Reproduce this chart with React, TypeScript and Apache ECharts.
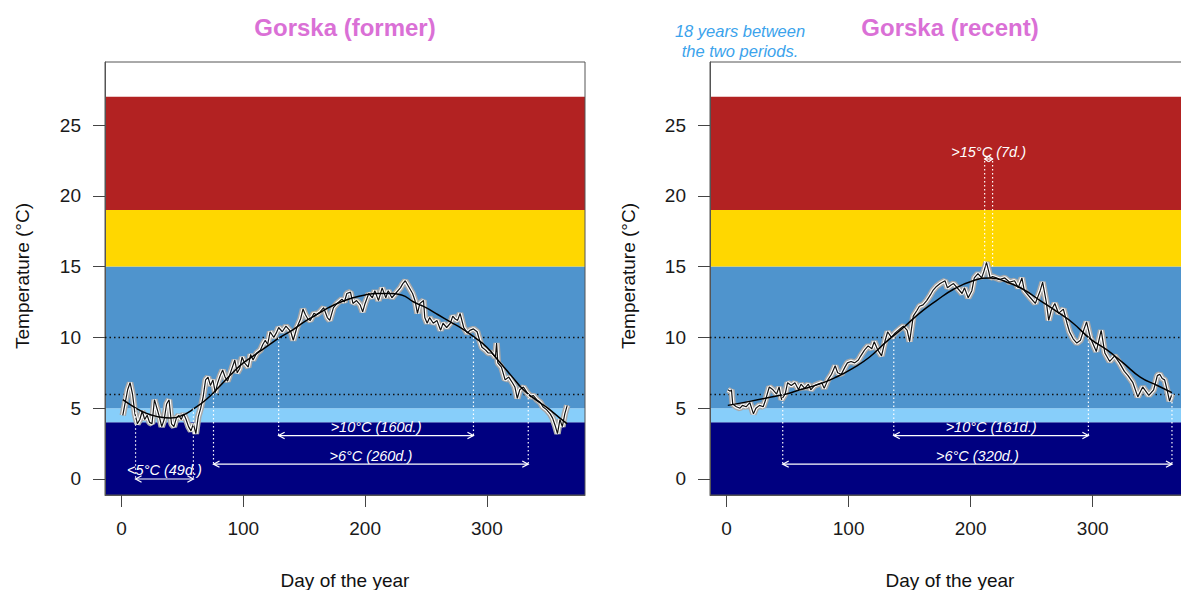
import { useEffect, useRef } from "react";
import * as echarts from "echarts";

// ---------- axes ----------
const X_TICKS = [0, 100, 200, 300];
const Y_TICKS = [0, 5, 10, 15, 20, 25];
const X_MIN = -13.6;
const X_MAX = 380.6;
const Y_MIN = -1.13;
const Y_MAX = 29.45;

// ---------- temperature classes (°C) ----------
const bandLow = [Y_MIN, 4, 5, 15, 19];
const bandHigh = [4, 5, 15, 19, 27];
const refLines = [6, 10];

// ---------- titles / texts ----------
const panelTitles = ["Gorska (former)", "Gorska (recent)"];
const noteLines = ["18 years between", "the two periods."];
const xName = "Day of the year";
const yName = "Temperature (°C)";

// ---------- former period: daily mean ----------
const formerDays = [
  1, 3, 5, 7, 9, 11, 13, 15, 17, 19, 21, 23, 25, 27, 29, 31, 33, 35, 37, 39, 41, 43, 45, 47, 49, 51, 53, 55, 57, 59,
  61, 63, 65, 67, 69, 71, 73, 75, 77, 79, 81, 83, 85, 87, 89, 91, 93, 95, 97, 99, 101, 104, 106, 108, 111, 114, 116,
  118, 120, 122, 125, 127, 129, 132, 135, 137, 139, 141, 144, 147, 149, 151, 153, 155, 158, 160, 163, 166, 169, 171,
  174, 177, 181, 183, 185, 188, 190, 193, 196, 198, 200, 203, 206, 208, 211, 214, 217, 219, 222, 225, 229, 231, 233,
  235, 237, 239, 241, 243, 245, 248, 249, 251, 253, 256, 259, 262, 264, 267, 270, 272, 274, 276, 278, 281, 284, 286,
  289, 292, 294, 296, 299, 301, 304, 307, 308, 309, 312, 315, 318, 321, 323, 325, 327, 330, 333, 336, 338, 341, 344,
  346, 349, 352, 354, 356, 358, 360, 362, 364, 366,
];
const formerTemps = [
  4.5, 5.4, 6.3, 6.8, 6.0, 4.6, 3.9, 4.2, 4.8, 4.2, 4.5, 4.0, 3.9, 5.6, 5.0, 4.4, 3.7, 4.2, 5.3, 5.6, 3.9, 3.7, 4.3,
  4.5, 4.2, 4.6, 4.2, 3.7, 3.4, 3.9, 3.2, 4.4, 5.0, 5.8, 7.0, 7.2, 6.6, 7.0, 6.1, 6.8, 7.3, 7.7, 7.2, 6.9, 7.4, 7.9,
  8.4, 7.5, 7.8, 8.6, 8.2, 7.9, 8.8, 8.4, 8.9, 9.1, 9.5, 9.8, 9.5, 10.4, 10.0, 10.3, 10.7, 10.4, 10.8, 10.6, 10.4, 9.8,
  10.7, 11.3, 12.0, 11.6, 11.3, 11.2, 11.7, 11.6, 11.8, 12.1, 11.4, 11.2, 12.1, 12.4, 12.7, 12.5, 13.1, 13.2, 12.4,
  12.6, 12.3, 11.8, 12.4, 13.1, 12.8, 13.3, 12.6, 13.5, 12.8, 13.3, 12.8, 13.1, 13.5, 13.8, 14.0, 13.7, 13.4, 13.1,
  12.6, 11.7, 12.4, 12.6, 11.4, 11.0, 11.4, 11.0, 11.2, 10.5, 11.0, 10.7, 11.0, 11.5, 11.3, 11.2, 11.7, 10.7, 10.3,
  10.5, 10.6, 10.4, 9.8, 9.3, 9.1, 8.9, 8.9, 8.6, 9.6, 8.2, 7.9, 7.0, 7.2, 6.8, 6.5, 5.7, 6.3, 6.5, 6.1, 5.8, 5.9, 5.6,
  5.4, 5.1, 4.9, 4.6, 4.3, 3.8, 3.2, 4.2, 3.7, 4.6, 5.2,
];
// former period: smoothed curve
const formerSmoothDays = [
  1, 10, 20, 30, 40, 50, 60, 70, 80, 90, 100, 110, 120, 130, 140, 150, 160, 170, 180, 190, 200, 210, 220, 230, 240,
  250, 260, 270, 280, 290, 300, 310, 320, 330, 340, 350, 360, 366,
];
const formerSmoothTemps = [
  5.6, 5.1, 4.65, 4.4, 4.3, 4.5, 5.0, 5.65, 6.5, 7.4, 8.2, 8.8, 9.4, 10.0, 10.5, 11.1, 11.6, 12.1, 12.5, 12.8, 13.0,
  13.1, 13.1, 13.0, 12.5, 12.1, 11.6, 11.1, 10.6, 10.0, 9.3, 8.3, 7.3, 6.3, 5.6, 5.0, 4.3, 3.9,
];
// former period: threshold spans [start day, end day, threshold, arrow level, label level]
const formerSpans = [
  [11.5, 59, 5, 0, 0.64],
  [129, 289, 10, 3.07, 3.67],
  [75.5, 334, 6, 1.05, 1.63],
];
const formerSpanLabels = ["<5°C (49d.)", ">10°C (160d.)", ">6°C (260d.)"];

// ---------- recent period: daily mean ----------
const recentDays = [
  1, 3, 4, 5, 8, 11, 13, 16, 19, 22, 24, 27, 30, 32, 35, 38, 41, 43, 45, 48, 50, 53, 56, 59, 61, 64, 67, 69, 72, 75,
  78, 80, 83, 86, 89, 91, 94, 97, 99, 102, 105, 108, 110, 113, 116, 119, 121, 124, 127, 130, 132, 135, 138, 142, 145,
  148, 150, 153, 156, 158, 161, 164, 167, 169, 172, 175, 179, 181, 184, 186, 190, 193, 195, 198, 201, 203, 206, 209,
  211, 213, 215, 216, 218, 221, 224, 228, 232, 236, 239, 242, 244, 249, 253, 257, 259, 262, 264, 266, 269, 272, 276,
  279, 281, 284, 287, 290, 293, 295, 298, 300, 303, 307, 310, 314, 318, 322, 326, 329, 333, 337, 341, 346, 350, 353,
  355, 357, 359, 361, 363, 365,
];
const recentTemps = [
  6.3, 6.2, 6.3, 5.3, 5.1, 5.0, 5.2, 5.1, 5.4, 4.6, 5.0, 5.2, 5.1, 5.6, 6.5, 6.3, 6.0, 6.5, 5.6, 6.0, 6.8, 6.6, 6.8,
  6.3, 6.7, 6.4, 6.7, 6.3, 6.6, 6.7, 6.8, 6.4, 7.0, 7.4, 8.0, 7.5, 7.4, 7.9, 8.2, 8.3, 8.2, 8.4, 8.7, 9.1, 9.4, 9.2,
  9.7, 9.1, 8.7, 9.8, 10.4, 10.0, 10.3, 10.6, 10.8, 10.5, 9.7, 11.5, 11.9, 12.2, 12.3, 12.6, 13.0, 13.3, 13.6, 13.8,
  14.0, 13.5, 13.7, 13.8, 13.4, 13.1, 13.5, 12.8, 13.3, 14.2, 14.5, 14.2, 14.7, 15.3, 14.6, 14.2, 14.3, 14.2, 14.1,
  14.2, 13.9, 14.0, 13.5, 14.2, 13.3, 12.8, 12.4, 13.3, 13.9, 12.5, 11.2, 11.9, 12.4, 11.7, 12.0, 11.0, 10.4, 9.9,
  9.6, 9.8, 10.6, 11.1, 10.0, 9.6, 9.0, 10.5, 8.9, 8.3, 8.7, 8.2, 7.6, 7.3, 6.8, 5.8, 6.5, 5.9, 6.3, 7.3, 7.4, 7.1,
  7.0, 6.3, 5.5, 6.0,
];
// recent period: smoothed curve
const recentSmoothDays = [
  1, 20, 40, 49, 60, 76, 90, 103, 117, 131, 145, 158, 172, 186, 202, 216, 230, 243, 257, 271, 284, 298, 312, 325, 339,
  353, 365,
];
const recentSmoothTemps = [
  5.2, 5.5, 5.85, 6.0, 6.3, 6.7, 7.2, 7.8, 8.6, 9.7, 10.7, 11.7, 12.6, 13.4, 14.0, 14.2, 13.9, 13.4, 12.6, 11.8, 11.0,
  9.9, 9.1, 8.2, 7.2, 6.6, 6.1,
];
const recentSpans = [
  [211.5, 218, 15, 22.6, 23.1],
  [137, 296.5, 10, 3.07, 3.67],
  [46, 365, 6, 1.05, 1.63],
];
const recentSpanLabels = [">15°C (7d.)", ">10°C (161d.)", ">6°C (320d.)"];

// ---------- styles ----------
const FONT = '"Liberation Sans", Arial, sans-serif';
const bandColors = ["#000080", "#87CEFA", "#4F94CD", "#FFD700", "#B22222"];
const TITLE_COLOR = "#DA70D6";
const NOTE_COLOR = "#3BA3EC";

function pairs(xs: number[], ys: number[]) {
  return xs.map((x, i) => [x, ys[i]]);
}

function panelSeries(
  idx: number,
  days: number[],
  temps: number[],
  sDays: number[],
  sTemps: number[],
  spans: number[][],
  labels: string[]
): any[] {
  const noisy = pairs(days, temps);
  const common = { xAxisIndex: idx, yAxisIndex: idx };
  return [
    {
      ...common,
      type: "custom",
      z: -1,
      silent: true,
      data: bandLow.map((lo, i) => [lo, bandHigh[i], i]),
      renderItem: (params: any, api: any) => {
        const cs = params.coordSys;
        const top = api.coord([0, api.value(1)])[1];
        const bot = api.coord([0, api.value(0)])[1];
        return {
          type: "rect",
          shape: { x: cs.x, y: top, width: cs.width, height: bot - top },
          style: { fill: bandColors[api.value(2)] },
        };
      },
    },
    {
      ...common,
      type: "custom",
      z: 1,
      silent: true,
      data: refLines.map((v) => [v]),
      renderItem: (params: any, api: any) => {
        const cs = params.coordSys;
        const y = Math.round(api.coord([0, api.value(0)])[1]) + 0.5;
        return {
          type: "line",
          shape: { x1: cs.x, y1: y, x2: cs.x + cs.width, y2: y },
          style: { stroke: "#111", lineWidth: 1.3, lineDash: [1.5, 3] },
        };
      },
    },
    {
      ...common,
      type: "line",
      z: 2,
      data: noisy,
      showSymbol: false,
      silent: true,
      lineStyle: { color: "#a8a8a8", width: 6.5 },
    },
    {
      ...common,
      type: "line",
      z: 2,
      data: noisy,
      showSymbol: false,
      silent: true,
      lineStyle: { color: "#ffffff", width: 3.5 },
    },
    {
      ...common,
      type: "line",
      z: 3,
      data: noisy,
      showSymbol: false,
      silent: true,
      lineStyle: { color: "#111111", width: 1.2 },
    },
    {
      ...common,
      type: "line",
      z: 4,
      data: pairs(sDays, sTemps),
      smooth: 0.5,
      showSymbol: false,
      silent: true,
      lineStyle: { color: "#000000", width: 1.5 },
    },
    {
      ...common,
      type: "custom",
      z: 5,
      silent: true,
      data: spans,
      renderItem: (params: any, api: any) => {
        const x1 = api.value(0);
        const x2 = api.value(1);
        const yFrom = api.value(2);
        const yArrow = api.value(3);
        const yText = api.value(4);
        const a = api.coord([x1, yFrom]);
        const b = api.coord([x1, yArrow]);
        const c = api.coord([x2, yFrom]);
        const d = api.coord([x2, yArrow]);
        const t = api.coord([(x1 + x2) / 2, yText]);
        const len = Math.abs(d[0] - b[0]);
        const h = Math.min(6, len / 2);
        const w = Math.min(3.2, len / 3);
        const stroke = { stroke: "#ffffff", lineWidth: 1.2 };
        const dotted = { stroke: "#ffffff", lineWidth: 1.2, lineDash: [1.5, 2.5] };
        return {
          type: "group",
          children: [
            { type: "line", shape: { x1: a[0], y1: a[1], x2: b[0], y2: b[1] }, style: dotted },
            { type: "line", shape: { x1: c[0], y1: c[1], x2: d[0], y2: d[1] }, style: dotted },
            { type: "line", shape: { x1: b[0], y1: b[1], x2: d[0], y2: d[1] }, style: stroke },
            {
              type: "polyline",
              shape: { points: [[b[0] + h, b[1] - w], [b[0], b[1]], [b[0] + h, b[1] + w]] },
              style: { ...stroke, fill: "none" },
            },
            {
              type: "polyline",
              shape: { points: [[d[0] - h, d[1] - w], [d[0], d[1]], [d[0] - h, d[1] + w]] },
              style: { ...stroke, fill: "none" },
            },
            {
              type: "text",
              x: t[0],
              y: t[1],
              style: {
                text: labels[params.dataIndex],
                fill: "#ffffff",
                fontSize: 14.5,
                fontStyle: "italic",
                fontFamily: FONT,
                align: "center",
                verticalAlign: "middle",
              },
            },
          ],
        };
      },
    },
  ];
}

function axisPair(idx: number) {
  const label = { fontSize: 19, color: "#1a1a1a", fontFamily: FONT, margin: 24 };
  return {
    x: {
      gridIndex: idx,
      type: "value",
      min: X_MIN,
      max: X_MAX,
      axisLine: { show: true, onZero: false, lineStyle: { color: "#555" } },
      axisTick: { show: true, inside: false, length: 12, lineStyle: { color: "#444" }, customValues: X_TICKS },
      axisLabel: { ...label, customValues: X_TICKS },
      splitLine: { show: false },
    },
    y: {
      gridIndex: idx,
      type: "value",
      min: Y_MIN,
      max: Y_MAX,
      axisLine: { show: true, onZero: false, lineStyle: { color: "#555" } },
      axisTick: { show: true, inside: false, length: 12, lineStyle: { color: "#444" }, customValues: Y_TICKS },
      axisLabel: { ...label, customValues: Y_TICKS },
      splitLine: { show: false },
    },
  };
}

export default function App() {
  const ref = useRef<HTMLDivElement>(null);
  useEffect(() => {
    if (!ref.current) return;
    const chart = echarts.init(ref.current, undefined, { renderer: "svg" });
    const a0 = axisPair(0);
    const a1 = axisPair(1);
    const textStyle = (size: number, extra: any = {}) => ({
      fontSize: size,
      fontFamily: FONT,
      fill: "#111",
      align: "center",
      verticalAlign: "middle",
      ...extra,
    });
    chart.setOption({
      animation: false,
      backgroundColor: "#ffffff",
      grid: [
        { left: 105, top: 62, width: 480, height: 433, show: true, borderColor: "#555", borderWidth: 1, backgroundColor: "transparent" },
        { left: 710, top: 62, width: 481, height: 433, show: true, borderColor: "#555", borderWidth: 1, backgroundColor: "transparent" },
      ],
      xAxis: [a0.x, a1.x],
      yAxis: [a0.y, a1.y],
      series: [
        ...panelSeries(0, formerDays, formerTemps, formerSmoothDays, formerSmoothTemps, formerSpans, formerSpanLabels),
        ...panelSeries(1, recentDays, recentTemps, recentSmoothDays, recentSmoothTemps, recentSpans, recentSpanLabels),
      ],
      graphic: [
        { type: "text", x: 345, y: 27, style: textStyle(24, { text: panelTitles[0], fill: TITLE_COLOR, fontWeight: "bold" }) },
        { type: "text", x: 950, y: 27, style: textStyle(24, { text: panelTitles[1], fill: TITLE_COLOR, fontWeight: "bold" }) },
        { type: "text", x: 740, y: 31, style: textStyle(16.5, { text: noteLines[0], fill: NOTE_COLOR, fontStyle: "italic" }) },
        { type: "text", x: 740, y: 51, style: textStyle(16.5, { text: noteLines[1], fill: NOTE_COLOR, fontStyle: "italic" }) },
        { type: "text", x: 345, y: 580, style: textStyle(19, { text: xName }) },
        { type: "text", x: 950, y: 580, style: textStyle(19, { text: xName }) },
        { type: "text", x: 22, y: 276, rotation: Math.PI / 2, style: textStyle(19, { text: yName }) },
        { type: "text", x: 628, y: 276, rotation: Math.PI / 2, style: textStyle(19, { text: yName }) },
      ],
    });
    return () => chart.dispose();
  }, []);
  return (
    <div
      style={{ position: "absolute", left: 0, top: 0, width: 1181, height: 590, overflow: "hidden", background: "#fff" }}
    >
      <div ref={ref} style={{ width: 1196, height: 590 }} />
    </div>
  );
}
